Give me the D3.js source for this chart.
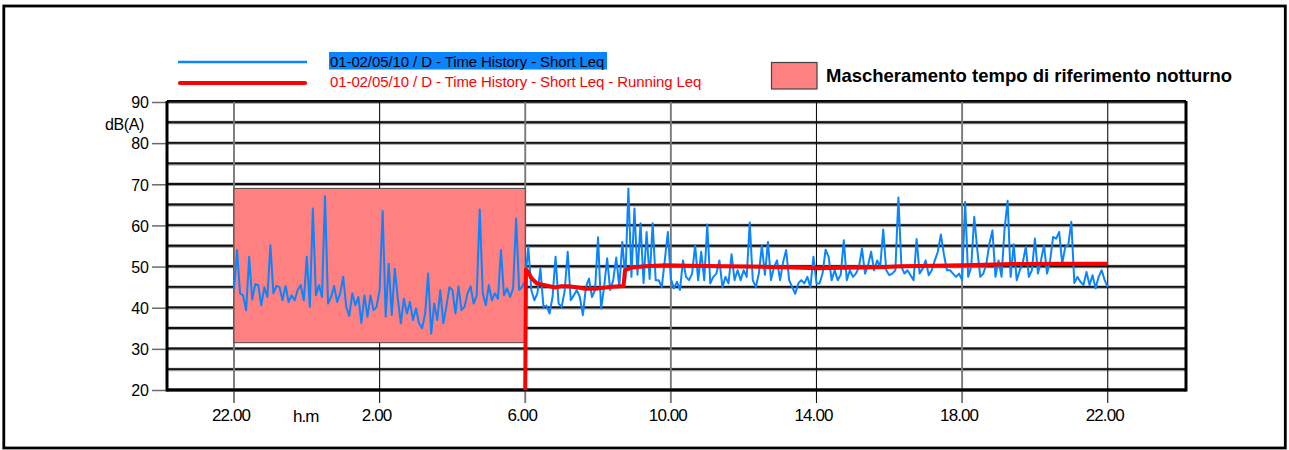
<!DOCTYPE html>
<html>
<head>
<meta charset="utf-8">
<script src="https://cdn.jsdelivr.net/npm/d3@7"></script>
<style>
  html, body { margin: 0; padding: 0; background: #fff; }
  svg { display: block; font-family: "Liberation Sans", Arial, sans-serif; }
</style>
</head>
<body>
<svg id="chart" width="1289" height="450"></svg>
<script>
// ---------- DATA ----------
// Hours counted from 22:00 of day 1
const tickHours = [0, 4, 8, 12, 16, 20, 24];
const tickLabels = ["22.00", "2.00", "6.00", "10.00", "14.00", "18.00", "22.00"];
const yTicks = [20, 30, 40, 50, 60, 70, 80, 90];
const yGrid = [20, 25, 30, 35, 40, 45, 50, 55, 60, 65, 70, 75, 80, 85, 90];

// Short Leq, one value every 5 minutes from 22:00 to 22:00 (dB(A))
const shortLeqStepMin = 5;
const shortLeq = [
  44.3, 54, 43.5, 43, 39.4, 52.4, 42, 45.7, 45.5, 40.6, 45, 42.6,
  55.2, 43.5, 45.3, 45, 41.8, 45.3, 41.4, 43, 41.8, 44.3, 45.5, 41.8,
  52.4, 40.2, 64.1, 43, 45.5, 42.6, 67.1, 41, 42.6, 45.3, 41.4, 43.5,
  47.5, 40.2, 38, 43.5, 40.6, 42.6, 36.3, 43, 37.8, 43, 39.4, 40.2,
  44.3, 63.5, 37.8, 50.7, 38.2, 49.5, 42.2, 36.2, 42.2, 38.6, 41.4, 37,
  39.8, 36.2, 35, 38.5, 48.3, 33.7, 41, 37, 44.3, 36.2, 40.2, 45,
  44.3, 38.6, 45.2, 39.4, 40.2, 43.5, 45.2, 41, 43, 63.9, 43.5, 40.6,
  45.5, 41.8, 43.5, 42.2, 54, 43, 44.7, 42.6, 44.7, 61.7, 44.3, 45.1,
  46.7, 54.8, 44.3, 41.8, 43.5, 49.5, 40.2, 40.5, 38.6, 42.6, 52.4, 41,
  40.2, 44.1, 53.6, 41.8, 43, 44.3, 42.6, 38.2, 45, 47.1, 42.6, 44.3,
  57.1, 39.8, 45, 52, 44.3, 46.7, 52.2, 45, 56, 47, 69, 47.5,
  64.1, 48, 60.5, 46, 58.4, 47, 60.5, 46.7, 46.7, 45, 51.5, 58.4,
  47, 44.7, 46.3, 44.3, 51.5, 47.5, 46.7, 48.3, 55.2, 46.7, 53.6, 46.7,
  60.2, 45.9, 47.5, 48.3, 51.5, 45, 47.5, 45.9, 53, 46.7, 49.1, 46.7,
  49.1, 47.5, 60.7, 46.7, 45, 48.3, 55.1, 48, 56, 46.7, 49.9, 51.5,
  46.7, 51.1, 54, 46.7, 45, 43.4, 45.9, 46.7, 45.9, 47.5, 45, 52.4,
  45.9, 45.9, 48.3, 54.1, 52.4, 46.7, 49.1, 46.7, 48, 56.4, 46.7, 49.1,
  47.5, 48.3, 49.9, 54.4, 48.3, 50.3, 53.6, 49.1, 51.5, 49.9, 59, 49.1,
  47.9, 48.3, 49.1, 66.8, 50, 48.3, 49.1, 47.9, 46.7, 56.7, 48.3, 49.5,
  51.5, 47.9, 49.1, 51.5, 53.6, 57.8, 53, 49.1, 49.1, 48.3, 47.5, 48.3,
  46.7, 65.7, 47.5, 50, 62.1, 54.1, 47.5, 48.3, 50.7, 55.6, 58.8, 47.5,
  51.5, 47.5, 59.2, 66, 47.5, 55.4, 46.7, 49.1, 51, 54.8, 47.5, 49.1,
  56.8, 48.3, 51.5, 55.2, 48.3, 51.5, 57.2, 56.8, 58.4, 50.7, 54.8, 55.2,
  60.9, 46, 47.5, 46.3, 45.5, 48.7, 45.5, 47.9, 44.7, 47.5, 49.1, 46.7,
  45
];

// Running Leq (hours from 22:00, dB(A)), starting at 6:00
const runningHours = [8.0, 8.02, 8.07, 8.18, 8.32, 8.54, 8.82, 8.96, 9.19, 9.46, 9.64, 10.01, 10.38, 10.7, 10.74, 10.93, 11.29, 11.84, 12.5, 13.54, 15.37, 16.0, 17.2, 17.88, 18.3, 20.03, 21.4, 22.88, 24.0];
const runningLeq   = [20,  49.3, 48.8, 47.1, 45.9, 45.5, 44.9, 45.2, 45.2, 44.9, 44.6, 44.7, 45.1, 45.3, 49.1, 49.8, 50.1, 50.3, 50.2, 50.1, 49.8, 49.6, 49.8, 49.9, 50.1, 50.3, 50.6, 50.7, 50.7];

// Night masking band (hours from 22:00, dB(A))
const maskHours = [0, 8];
const maskLevels = [31.5, 69];

const legendSeries = ["01-02/05/10 / D - Time History - Short Leq",
                      "01-02/05/10 / D - Time History - Short Leq - Running Leq"];
const legendMask = "Mascheramento tempo di riferimento notturno";
const yTitle = "dB(A)";
const xTitle = "h.m";

// ---------- DRAW ----------
const svg = d3.select("#chart");
const blue = "#0a84ff", red = "#ff0000", pink = "#ff8080";

const x = d3.scaleLinear().domain([-1.84, 26.15]).range([167, 1186]);
const y = d3.scaleLinear().domain([20, 90]).range([390, 102]);

// outer frame
svg.append("rect").attr("x", 3.8).attr("y", 6).attr("width", 1281.5).attr("height", 442)
  .attr("fill", "none").attr("stroke", "#000").attr("stroke-width", 2.8);

// horizontal grid
const hg = svg.append("g");
hg.selectAll("line.sh").data(yGrid).join("line")
  .attr("x1", x.range()[0]).attr("x2", x.range()[1])
  .attr("y1", d => y(d)).attr("y2", d => y(d))
  .attr("stroke", "#9a9a9a").attr("stroke-width", 3.4);
hg.selectAll("line.bk").data(yGrid).join("line")
  .attr("x1", x.range()[0]).attr("x2", x.range()[1])
  .attr("y1", d => y(d) - 0.3).attr("y2", d => y(d) - 0.3)
  .attr("stroke", "#111").attr("stroke-width", 1.9);

// vertical grid
const darkIdx = new Set([1, 4, 6]);
svg.append("g").selectAll("line").data(tickHours).join("line")
  .attr("x1", d => x(d)).attr("x2", d => x(d))
  .attr("y1", y(90)).attr("y2", y(20) + 13)
  .attr("stroke", (d, i) => darkIdx.has(i) ? "#111" : "#7a7a7a")
  .attr("stroke-width", (d, i) => darkIdx.has(i) ? 1.1 : 1.9);

// y axis
const yAxis = svg.append("g").attr("transform", `translate(${x.range()[0]},0)`)
  .call(d3.axisLeft(y).tickValues(yTicks).tickSize(15).tickPadding(3).tickFormat(d3.format("d")));
yAxis.select(".domain").remove();
yAxis.selectAll(".tick line").attr("stroke", "#6a6a6a").attr("stroke-width", 1.5);
yAxis.selectAll(".tick text").attr("font-size", 16).attr("font-family", "Liberation Sans, Arial, sans-serif")
  .attr("fill", "#000").attr("dy", "0.36em");

// x axis labels
const xAxis = svg.append("g").attr("transform", `translate(0,${y.range()[0]})`)
  .call(d3.axisBottom(x).tickValues(tickHours).tickSize(0).tickPadding(19).tickFormat((d, i) => tickLabels[i]));
xAxis.select(".domain").remove();
xAxis.selectAll(".tick text").attr("font-size", 17).attr("font-family", "Liberation Sans, Arial, sans-serif")
  .attr("letter-spacing", "-0.9px").attr("fill", "#000").attr("dx", -3.5).attr("dy", "0.71em");

svg.append("text").attr("x", x(2) - 1).attr("y", 421.5).attr("text-anchor", "middle")
  .attr("font-size", 17).attr("letter-spacing", "-0.9px").text(xTitle);
svg.append("text").attr("x", 144).attr("y", 129.5).attr("text-anchor", "end")
  .attr("font-size", 16).attr("letter-spacing", "-0.4px").text(yTitle);

// clip
svg.append("clipPath").attr("id", "clip").append("rect")
  .attr("x", x.range()[0]).attr("y", y.range()[1])
  .attr("width", x.range()[1] - x.range()[0]).attr("height", y.range()[0] - y.range()[1]);

// mask rectangle
svg.append("rect")
  .attr("x", x(maskHours[0])).attr("y", y(maskLevels[1]))
  .attr("width", x(maskHours[1]) - x(maskHours[0]))
  .attr("height", y(maskLevels[0]) - y(maskLevels[1]))
  .attr("fill", pink).attr("stroke", "#4a4a4a").attr("stroke-width", 1);

// plot frame (thick left, bottom, right)
const fr = svg.append("g").attr("stroke", "#000").attr("stroke-width", 3).attr("fill", "none");
fr.append("line").attr("x1", x.range()[0]).attr("x2", x.range()[0]).attr("y1", y(90) - 1).attr("y2", y(20) + 1.5);
fr.append("line").attr("x1", x.range()[1]).attr("x2", x.range()[1]).attr("y1", y(90) - 1).attr("y2", y(20) + 1.5);
fr.append("line").attr("x1", x.range()[0]).attr("x2", x.range()[1]).attr("y1", y(20)).attr("y2", y(20));
fr.append("line").attr("x1", x.range()[0]).attr("x2", x.range()[1]).attr("y1", y(90) - 1.5).attr("y2", y(90) - 1.5)
  .attr("stroke-width", 1);

// short leq line
const shortPts = shortLeq.map((v, i) => [i * shortLeqStepMin / 60, v]);
svg.append("path").datum(shortPts).attr("clip-path", "url(#clip)")
  .attr("fill", "none").attr("stroke", blue).attr("stroke-width", 2)
  .attr("stroke-linejoin", "round")
  .attr("d", d3.line().x(d => x(d[0])).y(d => y(d[1])));

// running leq line
const runPts = runningHours.map((h, i) => [h, runningLeq[i]]);
svg.append("path").datum(runPts).attr("clip-path", "url(#clip)")
  .attr("fill", "none").attr("stroke", red).attr("stroke-width", 4)
  .attr("stroke-linejoin", "round")
  .attr("d", d3.line().x(d => x(d[0])).y(d => y(d[1])));

// legend
const lg = svg.append("g");
lg.append("line").attr("x1", 178).attr("x2", 307).attr("y1", 62).attr("y2", 62)
  .attr("stroke", blue).attr("stroke-width", 2.3);
lg.append("line").attr("x1", 180).attr("x2", 305).attr("y1", 83).attr("y2", 83)
  .attr("stroke", red).attr("stroke-width", 4.2).attr("stroke-linecap", "round");
lg.append("rect").attr("x", 329).attr("y", 52).attr("width", 278).attr("height", 17.5).attr("fill", blue);
lg.append("text").attr("x", 330).attr("y", 66.5).attr("font-size", 15).attr("letter-spacing", "-0.1px")
  .attr("fill", "#000").text(legendSeries[0]);
lg.append("text").attr("x", 330).attr("y", 87).attr("font-size", 15).attr("letter-spacing", "-0.1px")
  .attr("fill", red).text(legendSeries[1]);
lg.append("rect").attr("x", 771.5).attr("y", 62.5).attr("width", 45.5).attr("height", 26.5)
  .attr("fill", pink).attr("stroke", "#444").attr("stroke-width", 1.2);
lg.append("text").attr("x", 826).attr("y", 81.5).attr("font-size", 18.5).attr("font-weight", "bold")
  .attr("fill", "#000").text(legendMask);
</script>
</body>
</html>
